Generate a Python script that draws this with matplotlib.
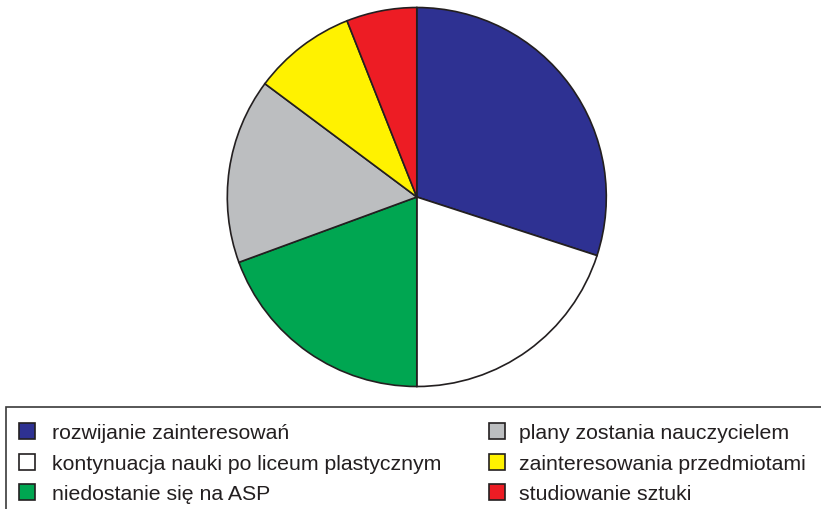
import matplotlib
matplotlib.use("Agg")
import matplotlib.pyplot as plt
from matplotlib.patches import Rectangle

labels = ["rozwijanie zainteresowań",
          "kontynuacja nauki po liceum plastycznym",
          "niedostanie się na ASP",
          "plany zostania nauczycielem",
          "zainteresowania przedmiotami",
          "studiowanie sztuki"]
values = [30.0, 20.0, 19.4, 15.8, 8.8, 6.0]
colors = ["#2E3192", "#FFFFFF", "#00A651", "#BCBEC0", "#FFF200", "#ED1C24"]

W, H = 821, 510
fig = plt.figure(figsize=(W / 100, H / 100), dpi=100)
plt.rcParams['font.family'] = ['Liberation Sans', 'DejaVu Sans']

cx, cy, r = 416.8, 198, 189.5
ax = fig.add_axes([(cx - r) / W, (H - cy - r) / H, 2 * r / W, 2 * r / H])
wedges, _ = ax.pie(values, colors=colors, startangle=90, counterclock=False, radius=1,
                   wedgeprops=dict(edgecolor="#231F20", linewidth=1.2))
for w in wedges:
    w.set_clip_on(False)
ax.set_xlim(-1.0, 1.0)
ax.set_ylim(-1.0, 1.0)
ax.set_aspect("equal")
ax.axis("off")

def fx(x):
    return x / W

def fy(y):
    return 1 - y / H

# legend box
fig.patches.append(Rectangle((fx(6), fy(530)), fx(840 - 6), (530 - 408) / H,
                             transform=fig.transFigure, facecolor="none",
                             edgecolor="#3a3a3a", linewidth=1.2, clip_on=False))

rows = [432, 463, 493]
cols = [(19, 52), (489, 519)]
for i, (lab, col) in enumerate(zip(labels, colors)):
    c = i // 3
    rr = i % 3
    mx, tx = cols[c]
    y = rows[rr]
    fig.patches.append(Rectangle((fx(mx), fy(y + 8)), 16 / W, 16 / H,
                                 transform=fig.transFigure, facecolor=col,
                                 edgecolor="#231F20", linewidth=1.2))
    fig.text(fx(tx), fy(y), lab, fontsize=15.3, color="#231F20",
             ha="left", va="center_baseline")

fig.savefig("out.png", dpi=100)
